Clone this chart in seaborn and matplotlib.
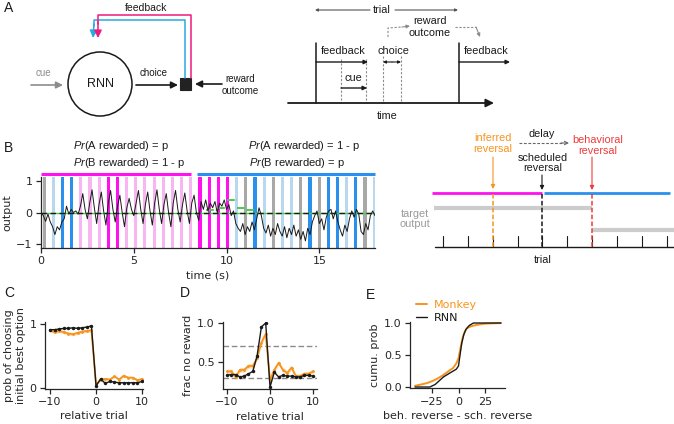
import matplotlib
matplotlib.use("Agg")
import matplotlib.pyplot as plt
from matplotlib.patches import Circle, Rectangle
import numpy as np
import seaborn as sns

# ---- data ----------------------------------------------------------------
# panel B: RNN output trace, sampled every 0.125 s
trace_dt = 0.125
trace = [
    0.0, -0.1, -0.28, -0.05, -0.3, -0.45, -0.7, -0.45, -0.55, -0.3, -0.2, 0.2, -0.05, 0.1, 0.0, 0.05, -0.05,
    0.2, 0.6, 0.1, -0.2,
    0.3, 0.72, 0.15, -0.35,
    0.25, 0.65, 0.05, -0.4,
    0.3, 0.7, 0.1, -0.3,
    0.2, 0.55, 0.0, -0.45,
    0.15, 0.45, 0.1, -0.1,
    0.3, 0.7, 0.1, -0.35,
    0.25, 0.65, 0.05, -0.4,
    0.3, 0.72, 0.1, -0.35,
    0.25, 0.6, 0.0, -0.45,
    0.3, 0.7, 0.1, -0.3,
    0.25, 0.62, 0.05, -0.35,
    0.3, 0.55, 0.0, -0.25, 0.35, 0.1, 0.4, 0.05, 0.3, 0.15, 0.35, 0.0, 0.3, 0.2, 0.4, 0.1, 0.25, -0.1, 0.05, -0.35,
    -0.5, -0.6, -0.35, -0.7, -0.45, -0.6, -0.3, -0.55,
    -0.2, 0.15, -0.1, -0.5, -0.65, -0.4, -0.75, -0.5,
    -0.7, -0.35, -0.6, -0.75, -0.45, -0.8, -0.5, -0.7,
    -0.4, -0.75, -0.55, -0.85, -0.6, -0.9, -0.5, -0.7,
    -0.3, -0.1, 0.05, -0.35, -0.2, -0.55, -0.15, 0.05,
    0.1, -0.2, 0.05, -0.3, -0.55, -0.75, -0.4, -0.6,
    -0.2, 0.05, -0.15, 0.1, -0.05, -0.6, -0.7, -0.35,
    -0.55, -0.1, 0.05, -0.1,
]
trace_t = np.arange(len(trace)) * trace_dt

# trial onsets (s) and trial type
bar_times = [0.17, 0.66, 1.16, 1.65, 2.15, 2.64, 3.13, 3.63, 4.12, 4.62, 5.11, 5.60,
             6.10, 6.59, 7.09, 7.58, 8.07, 8.57, 9.06, 9.56, 10.05, 10.54, 11.04,
             11.53, 12.03, 12.52, 13.01, 13.51, 14.00, 14.50, 14.99, 15.48, 15.98,
             16.47, 16.97, 17.46, 17.96]
bar_kind = ["g", "lb", "b", "b", "lp", "lp", "lp", "m", "m", "lp", "lp", "lp", "lp",
            "lp", "lp", "lp", "lp", "m", "m", "m", "m", "lb", "g", "b", "lb", "g",
            "lb", "lb", "g", "b", "g", "b", "b", "lb", "b", "g", "lb"]
kind_colors = {"g": "#a8a8a8", "lb": "#b8d8f2", "b": "#2a90ee",
               "lp": "#f7b6f2", "m": "#ff11f0"}

# green target steps
green_edges = [8.9, 9.5, 10.05, 10.57, 11.06, 11.55]
green_levels = [0.07, 0.15, 0.4, 0.15, 0.07]

# block lines
block_start = [0.0, 8.4]
block_end = [8.1, 18.0]

# panels C and D
rel_trial = list(range(-10, 11))
c_rnn = [0.91, 0.91, 0.92, 0.93, 0.93, 0.94, 0.93, 0.94, 0.95, 0.97,
         0.03, 0.14, 0.07, 0.10, 0.09, 0.08, 0.08, 0.08, 0.08, 0.08, 0.10]
c_monkey = [0.90, 0.87, 0.89, 0.87, 0.85, 0.84, 0.86, 0.88, 0.89, 0.90,
            0.05, 0.13, 0.14, 0.13, 0.18, 0.13, 0.19, 0.16, 0.16, 0.12, 0.14]
c_monkey_err = [0.025] * 10 + [0.02] * 11
d_rnn = [0.33, 0.34, 0.34, 0.31, 0.32, 0.35, 0.38, 0.58, 0.95, 1.00,
         0.18, 0.37, 0.31, 0.33, 0.32, 0.32, 0.31, 0.31, 0.33, 0.33, 0.32]
d_monkey = [0.38, 0.38, 0.31, 0.40, 0.40, 0.45, 0.45, 0.55, 0.75, 0.86,
            0.27, 0.40, 0.49, 0.40, 0.36, 0.43, 0.32, 0.32, 0.35, 0.35, 0.38]
d_monkey_err = [0.03] * 21
d_ref = [0.7, 0.3]

# panel E cumulative distributions
e_monkey_x = [-41, -35, -30, -25, -20, -15, -10, -5, -2, 0, 2, 4, 6, 8, 12, 17, 25, 40]
e_monkey_y = [0.02, 0.04, 0.06, 0.09, 0.13, 0.18, 0.24, 0.30, 0.37, 0.45, 0.62,
              0.78, 0.87, 0.92, 0.95, 0.97, 0.99, 1.0]
e_rnn_x = [-41, -35, -27, -22, -18, -14, -10, -6, -2, 0, 1, 3, 5, 7, 10, 14, 40]
e_rnn_y = [0.0, 0.0, 0.0, 0.04, 0.10, 0.16, 0.20, 0.24, 0.28, 0.33, 0.45, 0.68,
           0.82, 0.90, 0.96, 1.0, 1.0]

ORANGE = "#f7941d"
W, H = 674, 424

sns.set_theme(style="ticks", context="paper")
plt.rcParams.update({
    "font.family": ["DejaVu Sans"],
    "font.size": 8,
    "axes.labelsize": 8,
    "xtick.labelsize": 8,
    "ytick.labelsize": 8,
    "axes.linewidth": 0.9,
    "xtick.major.width": 0.9,
    "ytick.major.width": 0.9,
    "xtick.major.size": 3.5,
    "ytick.major.size": 3.5,
    "xtick.major.pad": 2.5,
    "ytick.major.pad": 2.5,
    "axes.labelpad": 3,
    "mathtext.fontset": "custom",
    "mathtext.rm": "Liberation Sans",
    "mathtext.it": "Liberation Sans:italic",
})

fig = plt.figure(figsize=(W / 100, H / 100), dpi=100)


def px_axes(x0, y0, x1, y1):
    ax = fig.add_axes([x0 / W, 1 - y1 / H, (x1 - x0) / W, (y1 - y0) / H])
    ax.patch.set_alpha(0)
    return ax


# ---- schematic overlay (pixel coordinates) ---------------------------------
ov = fig.add_axes([0, 0, 1, 1])
ov.set_xlim(0, W)
ov.set_ylim(H, 0)
ov.axis("off")
SF = "Liberation Sans"


def txt(x, y, s, size=7.8, color="k", ha="center", va="center", **kw):
    ov.text(x, y, s, fontsize=size, color=color, ha=ha, va=va, family=SF, **kw)


def arrow(x0, y0, x1, y1, color="k", lw=1.0, style="-|>", ms=7):
    ov.annotate("", xy=(x1, y1), xytext=(x0, y0),
                arrowprops=dict(arrowstyle=style, color=color, lw=lw,
                                mutation_scale=ms, shrinkA=0, shrinkB=0))


for lab, x, y in [("A", 4, 8), ("B", 4, 148), ("C", 4, 293), ("D", 180, 293), ("E", 366, 295)]:
    txt(x, y, lab, size=10, ha="left")

# A: RNN loop
ov.add_patch(Circle((100, 84), 32, fill=False, lw=1.1, ec="k"))
txt(100, 84, "RNN", size=9)
arrow(31, 85, 63, 85, color="#8c8c8c", lw=1.2, ms=10)
txt(43, 73, "cue", size=7, color="#8c8c8c")
arrow(136, 85, 178, 85, lw=1.2, ms=10)
txt(154, 73, "choice", size=7)
ov.add_patch(Rectangle((180, 78), 11, 12, color="#222222"))
arrow(222, 84, 195, 84, lw=1.2, ms=10)
txt(240, 79, "reward", size=7)
txt(240, 91, "outcome", size=7)
ov.plot([185, 185, 94, 94], [78, 20, 20, 26], color="#27aae1", lw=1.1)
ov.plot([190.5, 190.5, 98, 98], [78, 15, 15, 24], color="#f0197d", lw=1.1)
arrow(94, 24, 93, 38, color="#27aae1", lw=1.1, ms=11)
arrow(98, 22, 98, 38, color="#f0197d", lw=1.1, ms=11)
txt(146, 8, "feedback", size=7.5)

# A: timing diagram
arrow(370, 10, 315, 10, color="#555555", lw=0.8, ms=4)
arrow(395, 10, 458, 10, color="#555555", lw=0.8, ms=4)
txt(382, 10, "trial")
arrow(288, 103, 494, 103, lw=1.3, ms=12)
txt(387, 116, "time")
ov.plot([316, 316], [103, 43], color="k", lw=1.1)
ov.plot([459, 459], [103, 43], color="k", lw=1.1)
for x, y in [(341, 59), (366, 59), (383, 56), (401, 56)]:
    ov.plot([x, x], [y, 103], color="#8c8c8c", lw=0.8, ls=(0, (2, 1.5)))
txt(343, 51, "feedback")
arrow(316, 62, 368, 62, lw=1.0, ms=6)
txt(353, 78, "cue")
arrow(341, 88, 367, 88, lw=1.0, ms=6)
txt(393, 51, "choice")
arrow(392, 62, 383, 62, lw=0.8, ms=4)
arrow(392, 62, 401, 62, lw=0.8, ms=4)
txt(486, 51, "feedback")
arrow(459, 62, 510, 62, lw=1.0, ms=6)
txt(430, 21, "reward")
txt(430, 33, "outcome")
ov.plot([388, 388, 402], [37, 28, 27], color="#8c8c8c", lw=0.8, ls=(0, (2, 1.5)))
arrow(402, 27, 410, 26, color="#8c8c8c", lw=0.8, ms=5)
ov.plot([455, 476], [27, 27], color="#8c8c8c", lw=0.8, ls=(0, (2, 1.5)))
arrow(476, 27, 480, 37, color="#8c8c8c", lw=0.8, ms=5)

# B: reversal schematic
ov.plot([432, 542], [193, 193], color="#ff11f0", lw=2.0, solid_capstyle="butt")
ov.plot([544, 670], [193, 193], color="#2a90ee", lw=2.0, solid_capstyle="butt")
ov.plot([434, 592], [208, 208], color="#cccccc", lw=3.0, solid_capstyle="butt")
ov.plot([592, 674], [230, 230], color="#cccccc", lw=3.0, solid_capstyle="butt")
txt(415, 214, "target", color="#9a9a9a")
txt(415, 224, "output", color="#9a9a9a")
ov.plot([435, 674], [247, 247], color="k", lw=1.0)
for x in [443, 468, 493, 518, 542, 567, 592, 617, 642, 667]:
    ov.plot([x, x], [247, 236], color="k", lw=0.8)
txt(543, 260, "trial")
for x, c in [(493, ORANGE), (542, "k"), (592, "#ee3b3b")]:
    ov.plot([x, x], [194, 247], color=c, lw=1.1, ls=(0, (3, 1.5)))
arrow(493, 157, 493, 189, color=ORANGE, lw=0.8, ms=6)
arrow(542, 175, 542, 190, color="k", lw=0.8, ms=6)
arrow(592, 157, 592, 190, color="#ee3b3b", lw=0.8, ms=6)
txt(493, 138, "inferred", color=ORANGE)
txt(493, 149, "reversal", color=ORANGE)
txt(543, 158, "scheduled")
txt(543, 168, "reversal")
txt(542, 134, "delay")
ov.plot([519, 563], [143, 143], color="#666666", lw=0.8, ls=(0, (2.5, 1.5)))
arrow(561, 143, 569, 143, color="#666666", lw=0.8, style="->", ms=6)
txt(598, 140, "behavioral", color="#ee3b3b")
txt(598, 151, "reversal", color="#ee3b3b")

# ---- B: output trace -------------------------------------------------------
axb = px_axes(41, 176.9, 375, 247.5)
axb.bar(bar_times, 2.4, bottom=-1.2, width=0.17,
        color=[kind_colors[k] for k in bar_kind], linewidth=0, zorder=1)
axb.axhline(0, color="#4cc94c", lw=1.0, zorder=2)
axb.hlines(green_levels, green_edges[:-1], green_edges[1:], color="#4cc94c",
           lw=1.4, linestyles=(0, (4, 1)), zorder=3)
axb.axhline(0, color="k", lw=1.0, ls=(0, (4, 2.5)), zorder=3)
sns.lineplot(x=trace_t, y=trace, ax=axb, color="k", lw=0.7, zorder=4)
for s, e, c in zip(block_start, block_end, ["#ff11f0", "#2a90ee"]):
    axb.plot([s, e], [1.23, 1.23], color=c, lw=2.2, clip_on=False, solid_capstyle="butt")
axb.set_xlim(0, 18)
axb.set_ylim(-1.11, 1.13)
axb.set_xticks([0, 5, 10, 15])
axb.set_yticks([-1, 0, 1])
axb.set_xlabel("time (s)")
axb.set_ylabel("output")
sns.despine(ax=axb)
txt(73, 146, r"$\it{Pr}$(A rewarded) = p", size=8, ha="left")
txt(73, 163, r"$\it{Pr}$(B rewarded) = 1 - p", size=8, ha="left")
txt(248, 146, r"$\it{Pr}$(A rewarded) = 1 - p", size=8, ha="left")
txt(249, 163, r"$\it{Pr}$(B rewarded) = p", size=8, ha="left")

# ---- C ---------------------------------------------------------------------
axc = px_axes(45, 322, 143, 388.5)
lo = np.array(c_monkey) - np.array(c_monkey_err)
hi = np.array(c_monkey) + np.array(c_monkey_err)
axc.fill_between(rel_trial, lo, hi, color=ORANGE, alpha=0.3, lw=0)
sns.lineplot(x=rel_trial, y=c_monkey, ax=axc, color=ORANGE, lw=1.3,
             marker="o", markersize=2, markeredgewidth=0)
sns.lineplot(x=rel_trial, y=c_rnn, ax=axc, color="k", lw=1.0,
             marker="o", markersize=2.5, markeredgewidth=0)
axc.set_xlim(-11.09, 10.2)
axc.set_ylim(-0.01, 1.03)
axc.set_xticks([-10, 0, 10])
axc.set_yticks([0, 1])
axc.set_xlabel("relative trial")
axc.set_ylabel("prob of choosing\ninitial best option")
sns.despine(ax=axc)

# ---- D ---------------------------------------------------------------------
axd = px_axes(223, 322, 317, 389)
for v in d_ref:
    axd.axhline(v, color="#8c8c8c", lw=1.0, ls=(0, (4, 2)))
lo = np.array(d_monkey) - np.array(d_monkey_err)
hi = np.array(d_monkey) + np.array(d_monkey_err)
axd.fill_between(rel_trial, lo, hi, color=ORANGE, alpha=0.3, lw=0)
sns.lineplot(x=rel_trial, y=d_monkey, ax=axd, color=ORANGE, lw=1.3,
             marker="o", markersize=2, markeredgewidth=0)
sns.lineplot(x=rel_trial, y=d_rnn, ax=axd, color="k", lw=1.0,
             marker="o", markersize=2.5, markeredgewidth=0)
axd.set_xlim(-10.93, 10.93)
axd.set_ylim(0.155, 1.013)
axd.set_xticks([-10, 0, 10])
axd.set_yticks([0.5, 1.0])
axd.set_xlabel("relative trial")
axd.set_ylabel("frac no reward")
sns.despine(ax=axd)

# ---- E ---------------------------------------------------------------------
axe = px_axes(410, 322, 505, 388.3)
sns.lineplot(x=e_monkey_x, y=e_monkey_y, ax=axe, color=ORANGE, lw=1.4, label="Monkey")
sns.lineplot(x=e_rnn_x, y=e_rnn_y, ax=axe, color="k", lw=1.0, label="RNN")
axe.set_xlim(-45.7, 43.8)
axe.set_ylim(-0.02, 1.016)
axe.set_xticks([-25, 0, 25])
axe.set_yticks([0, 0.5, 1.0])
axe.set_xlabel("beh. reverse - sch. reverse")
axe.set_ylabel("cumu. prob")
axe.legend(frameon=False, loc="upper left", bbox_to_anchor=(0.02, 1.40),
           handlelength=1.0, handletextpad=0.6, labelspacing=0.3,
           fontsize=8, labelcolor="linecolor", borderaxespad=0)
sns.despine(ax=axe)

fig.savefig("out.png", dpi=100)
